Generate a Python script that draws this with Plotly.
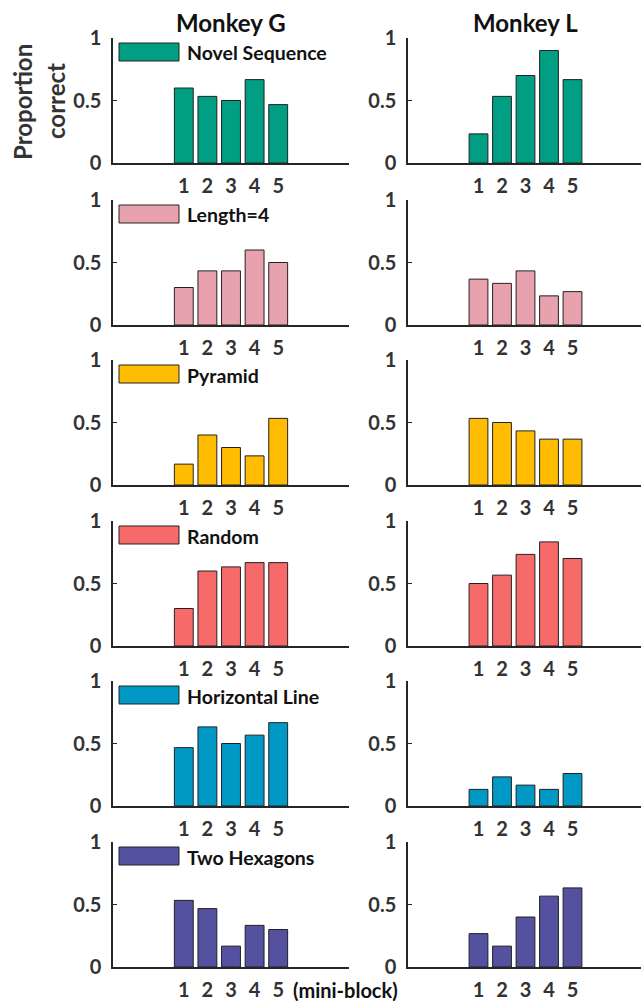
import plotly.graph_objects as go

# ---------------- data ----------------
blocks = [1, 2, 3, 4, 5]
block_labels = ["1", "2", "3", "4", "5"]
monkeys = ["Monkey G", "Monkey L"]
conditions = ["Novel Sequence", "Length=4", "Pyramid", "Random", "Horizontal Line", "Two Hexagons"]

g_novel = [0.600, 0.533, 0.500, 0.667, 0.467]
l_novel = [0.233, 0.533, 0.700, 0.900, 0.667]
g_len4 = [0.300, 0.433, 0.433, 0.600, 0.500]
l_len4 = [0.367, 0.333, 0.433, 0.233, 0.267]
g_pyramid = [0.167, 0.400, 0.300, 0.233, 0.533]
l_pyramid = [0.533, 0.500, 0.433, 0.367, 0.367]
g_random = [0.300, 0.600, 0.633, 0.667, 0.667]
l_random = [0.500, 0.567, 0.733, 0.833, 0.700]
g_hline = [0.467, 0.633, 0.500, 0.567, 0.667]
l_hline = [0.133, 0.233, 0.167, 0.133, 0.260]
g_hex = [0.533, 0.467, 0.167, 0.333, 0.300]
l_hex = [0.267, 0.167, 0.400, 0.567, 0.633]

y_ticks = [0, 0.5, 1]
y_tick_labels = ["0", "0.5", "1"]

series_g = [g_novel, g_len4, g_pyramid, g_random, g_hline, g_hex]
series_l = [l_novel, l_len4, l_pyramid, l_random, l_hline, l_hex]

# ---------------- style ----------------
colors = ["#009E82", "#E8A2AD", "#FFBC00", "#F76A6A", "#0098C4", "#5451A0"]
W, H = 641, 1001
FONT = "Lato"
TXT = "#333333"
AX = "#262626"

row_tops = [38, 200, 360, 521, 681, 842]
row_h = 125
col_x = [(113, 349), (408, 641)]
col_range = [[-2, 8], [-2, -2 + (641 - 408) / 23.5]]


def fx(px):
    return px / W


def fy(py):
    return 1 - py / H


fig = go.Figure()
layout = dict(
    width=W, height=H,
    margin=dict(l=0, r=0, t=0, b=0, pad=0),
    paper_bgcolor="white", plot_bgcolor="white",
    showlegend=False,
    bargap=0.2,
)

shapes = []
annotations = []
k = 0
for r in range(6):
    for c in range(2):
        k += 1
        xa = "x" if k == 1 else f"x{k}"
        ya = "y" if k == 1 else f"y{k}"
        vals = series_g[r] if c == 0 else series_l[r]
        fig.add_trace(go.Bar(
            x=blocks, y=vals, xaxis=xa, yaxis=ya,
            width=0.8,
            marker=dict(color=colors[r], line=dict(color="#222222", width=1)),
            name=conditions[r] + " - " + monkeys[c],
        ))
        top = row_tops[r]
        bot = top + row_h
        x0, x1 = col_x[c]
        layout["xaxis" if k == 1 else f"xaxis{k}"] = dict(
            domain=[fx(x0), fx(x1)], anchor=ya, range=col_range[c],
            tickvals=blocks, ticktext=block_labels, ticks="",
            showline=True, linecolor=AX, linewidth=1.5,
            showgrid=False, zeroline=False, fixedrange=True, automargin=False,
            tickfont=dict(family=FONT, size=20, color=TXT, weight="bold"),
            ticklabelstandoff=4,
        )
        layout["yaxis" if k == 1 else f"yaxis{k}"] = dict(
            domain=[fy(bot), fy(top)], anchor=xa, range=[0, 1],
            tickvals=y_ticks, ticktext=y_tick_labels,
            ticks="inside", ticklen=4, tickcolor=AX, tickwidth=1.2,
            showline=True, linecolor=AX, linewidth=1.5,
            showgrid=False, zeroline=False, fixedrange=True, automargin=False,
            tickfont=dict(family=FONT, size=20, color=TXT, weight="bold"),
            ticklabelstandoff=6,
        )
        if c == 0:
            # legend swatch + label
            shapes.append(dict(
                type="rect", xref="paper", yref="paper",
                x0=fx(119), x1=fx(179), y0=fy(top + 23), y1=fy(top + 5),
                fillcolor=colors[r], line=dict(color="#222222", width=1),
            ))
            annotations.append(dict(
                text=conditions[r], xref="paper", yref="paper",
                x=fx(185), y=fy(top + 15), xanchor="left", yanchor="middle",
                showarrow=False,
                font=dict(family=FONT, size=19.5, color="#111111", weight="bold"),
            ))

# column titles
for c, name in enumerate(monkeys):
    cx = (col_x[c][0] + (col_x[c][0] + 235)) / 2
    annotations.append(dict(
        text=name, xref="paper", yref="paper", x=fx(cx), y=fy(22),
        xanchor="center", yanchor="middle", showarrow=False,
        font=dict(family=FONT, size=24, color="#111111", weight="bold"),
    ))

# y title
annotations.append(dict(
    text="Proportion", xref="paper", yref="paper", x=fx(23), y=fy(102),
    xanchor="center", yanchor="middle", textangle=-90, showarrow=False,
    font=dict(family=FONT, size=24, color=TXT, weight="bold"),
))
annotations.append(dict(
    text="correct", xref="paper", yref="paper", x=fx(55), y=fy(101),
    xanchor="center", yanchor="middle", textangle=-90, showarrow=False,
    font=dict(family=FONT, size=24, color=TXT, weight="bold"),
))
# x unit
annotations.append(dict(
    text="(mini-block)", xref="paper", yref="paper", x=fx(292), y=fy(989.5),
    xanchor="left", yanchor="middle", showarrow=False, borderpad=0,
    font=dict(family=FONT, size=20, color="#111111", weight="bold"),
))

layout["shapes"] = shapes
layout["annotations"] = annotations
fig.update_layout(**layout)
fig.write_html(
    "out.html",
    config={"displayModeBar": False},
    post_script="document.body.style.margin='0px';document.body.style.overflow='hidden';",
)
